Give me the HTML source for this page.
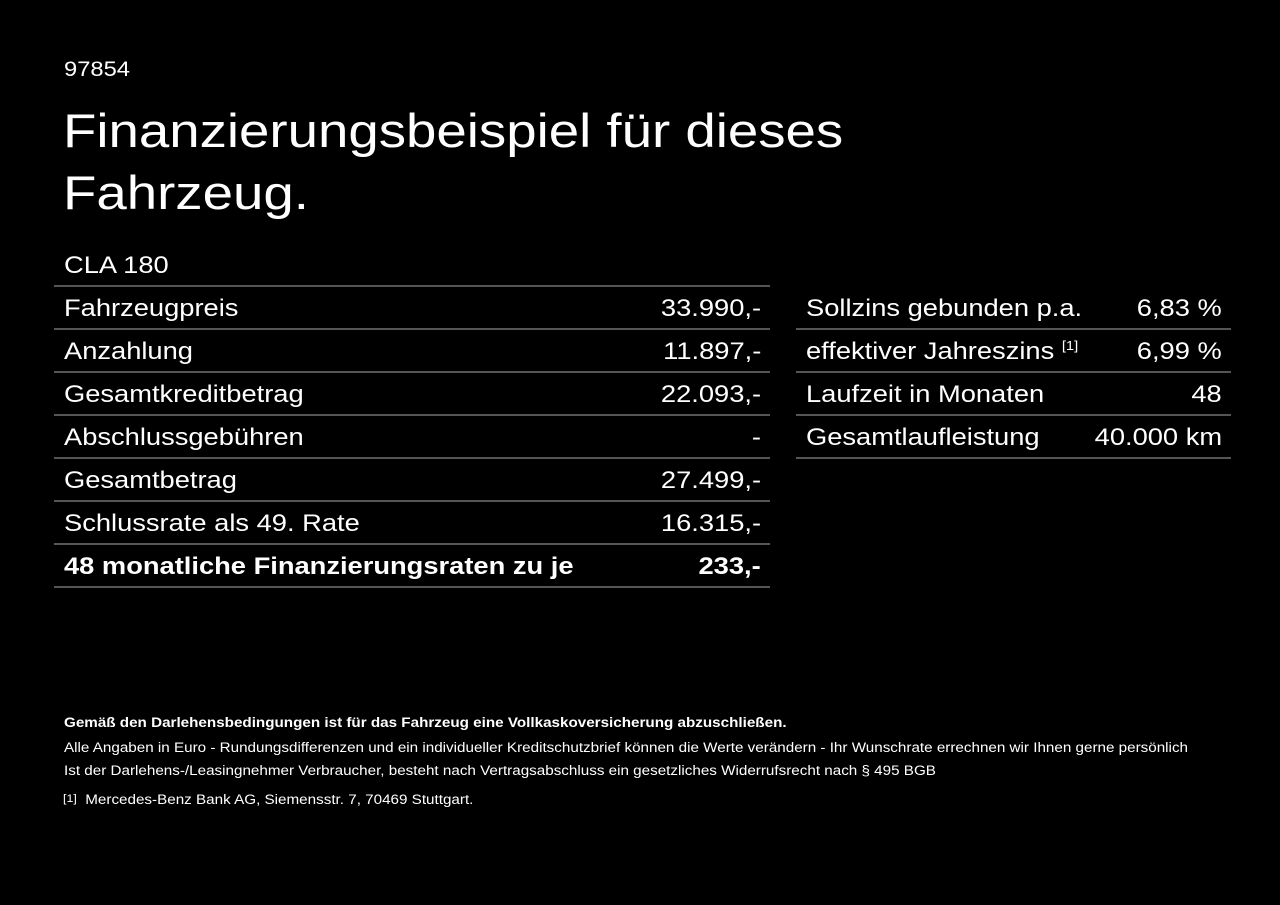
<!DOCTYPE html>
<html><head><meta charset="utf-8"><style>
body{margin:0;width:1280px;height:905px;background:#000;color:#fff;font-family:"Liberation Sans",Arial,sans-serif;position:relative;overflow:hidden}
.a{position:absolute;white-space:nowrap;transform-origin:left top}
.row{position:absolute;height:43px;border-bottom:2px solid #555;box-sizing:border-box;font-size:24px}
.row span{position:absolute;top:8px;white-space:nowrap}
.l{left:10px;transform:scaleX(1.137);transform-origin:left}
.r{right:9px;transform:scaleX(1.137);transform-origin:right}
.sm{font-size:13.5px;transform:scaleX(1.127)}
</style></head><body>
<div class="a" style="left:64px;top:58px;font-size:21px;transform:scaleX(1.13)">97854</div>
<div class="a" style="left:63px;top:100px;font-size:47px;line-height:62px;transform:scaleX(1.162)">Finanzierungsbeispiel für dieses<br>Fahrzeug.</div>
<div class="row" style="left:54px;top:244px;width:716px"><span class="l">CLA 180</span></div>
<div class="row" style="left:54px;top:287px;width:716px"><span class="l">Fahrzeugpreis</span><span class="r">33.990,-</span></div>
<div class="row" style="left:54px;top:330px;width:716px"><span class="l">Anzahlung</span><span class="r">11.897,-</span></div>
<div class="row" style="left:54px;top:373px;width:716px"><span class="l">Gesamtkreditbetrag</span><span class="r">22.093,-</span></div>
<div class="row" style="left:54px;top:416px;width:716px"><span class="l">Abschlussgebühren</span><span class="r">-</span></div>
<div class="row" style="left:54px;top:459px;width:716px"><span class="l">Gesamtbetrag</span><span class="r">27.499,-</span></div>
<div class="row" style="left:54px;top:502px;width:716px"><span class="l">Schlussrate als 49. Rate</span><span class="r">16.315,-</span></div>
<div class="row" style="left:54px;top:545px;width:716px;font-weight:bold"><span class="l">48 monatliche Finanzierungsraten zu je</span><span class="r">233,-</span></div>
<div class="row" style="left:796px;top:287px;width:435px"><span class="l">Sollzins gebunden p.a.</span><span class="r">6,83 %</span></div>
<div class="row" style="left:796px;top:330px;width:435px"><span class="l">effektiver Jahreszins <sup style="font-size:13px">[1]</sup></span><span class="r">6,99 %</span></div>
<div class="row" style="left:796px;top:373px;width:435px"><span class="l">Laufzeit in Monaten</span><span class="r">48</span></div>
<div class="row" style="left:796px;top:416px;width:435px"><span class="l">Gesamtlaufleistung</span><span class="r">40.000 km</span></div>
<div class="a sm" style="left:64px;top:715px;font-weight:bold">Gemäß den Darlehensbedingungen ist für das Fahrzeug eine Vollkaskoversicherung abzuschließen.</div>
<div class="a sm" style="left:64px;top:740px">Alle Angaben in Euro - Rundungsdifferenzen und ein individueller Kreditschutzbrief können die Werte verändern - Ihr Wunschrate errechnen wir Ihnen gerne persönlich</div>
<div class="a sm" style="left:64px;top:763px">Ist der Darlehens-/Leasingnehmer Verbraucher, besteht nach Vertragsabschluss ein gesetzliches Widerrufsrecht nach § 495 BGB</div>
<div class="a sm" style="left:63px;top:792px"><span style="font-size:11px;vertical-align:2px">[1]</span>&nbsp; Mercedes-Benz Bank AG, Siemensstr. 7, 70469 Stuttgart.</div>
</body></html>
